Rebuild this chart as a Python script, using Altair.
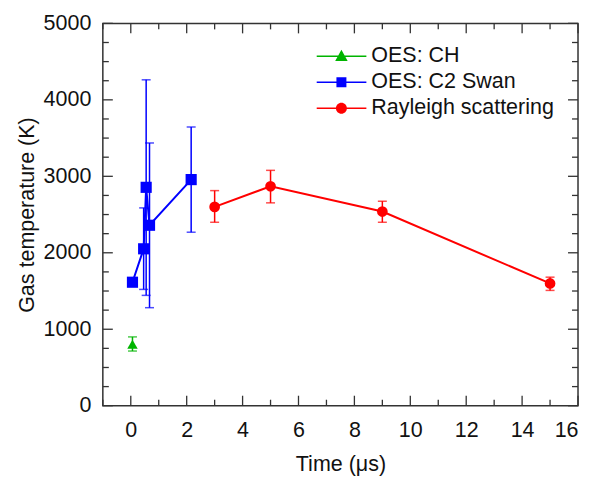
import altair as alt
import pandas as pd

# ---- data ----
ch_time = [0.06]
ch_temp = [805]
ch_lo = [715]
ch_hi = [900]

c2_time = [0.06, 0.46, 0.55, 0.67, 2.16]
c2_temp = [1615, 2052, 2856, 2360, 2957]
c2_lo = [1615, 1521, 1443, 1282, 2269]
c2_hi = [1615, 2587, 4262, 3436, 3645]

ray_time = [3, 5, 9, 15]
ray_temp = [2600, 2869, 2539, 1599]
ray_lo = [2399, 2653, 2399, 1508]
ray_hi = [2813, 3078, 2674, 1681]

series_names = ["OES: CH", "OES: C2 Swan", "Rayleigh scattering"]
series_colors = ["#00b400", "#0000ff", "#ff0000"]

x_major = [0, 2, 4, 6, 8, 10, 12, 14, 16]
x_minor = [-1, 1, 3, 5, 7, 9, 11, 13, 15]
y_major = [0, 1000, 2000, 3000, 4000, 5000]
y_minor = [250, 500, 750, 1250, 1500, 1750, 2250, 2500, 2750,
           3250, 3500, 3750, 4250, 4500, 4750]

W, H = 476, 383
FONT = "Liberation Sans"
FS = 21.5

ch_df = pd.DataFrame({"t": ch_time, "T": ch_temp, "lo": ch_lo, "hi": ch_hi})
c2_df = pd.DataFrame({"t": c2_time, "T": c2_temp, "lo": c2_lo, "hi": c2_hi})
ray_df = pd.DataFrame({"t": ray_time, "T": ray_temp, "lo": ray_lo, "hi": ray_hi})

xscale = alt.Scale(domain=[-1, 16], nice=False, zero=False)
yscale = alt.Scale(domain=[0, 5000], nice=False, zero=False)
xaxis = alt.Axis(values=x_major, ticks=False, domain=False, grid=False, format="d",
                 title="Time (μs)", labelPadding=14, titlePadding=12,
                 labelFontSize=FS, titleFontSize=FS, titleFontWeight="normal",
                 labelColor="#111", titleColor="#111", labelFont=FONT, titleFont=FONT)
yaxis = alt.Axis(values=y_major, ticks=False, domain=False, grid=False, format="d",
                 title="Gas temperature (K)", labelPadding=12, titlePadding=5,
                 labelFontSize=FS, titleFontSize=FS, titleFontWeight="normal",
                 labelColor="#111", titleColor="#111", labelFont=FONT, titleFont=FONT)

X = alt.X("t:Q", scale=xscale, axis=xaxis)
Y = alt.Y("T:Q", scale=yscale, axis=yaxis)


def series_layers(df, color, shape, size):
    base = alt.Chart(df)
    line = base.mark_line(color=color, strokeWidth=2).encode(x=X, y=Y, order="t:Q")
    rule = base.mark_rule(color=color, strokeWidth=1.5).encode(
        x=X, y=alt.Y("lo:Q", scale=yscale, axis=yaxis), y2="hi:Q")
    cap_lo = base.mark_tick(color=color, orient="horizontal", size=9, thickness=1.5).encode(
        x=X, y=alt.Y("lo:Q", scale=yscale, axis=yaxis))
    cap_hi = base.mark_tick(color=color, orient="horizontal", size=9, thickness=1.5).encode(
        x=X, y=alt.Y("hi:Q", scale=yscale, axis=yaxis))
    pts = base.mark_point(filled=True, color=color, shape=shape, size=size, opacity=1).encode(x=X, y=Y)
    return [line, rule, cap_lo, cap_hi, pts]


layers = []
layers += series_layers(c2_df, series_colors[1], "square", 125)
layers += series_layers(ray_df, series_colors[2], "circle", 115)
layers += series_layers(ch_df, series_colors[0], "triangle-up", 110)

# inward axis ticks on all four sides
TICK = "#333"
xM = pd.DataFrame({"t": x_major})
xm = pd.DataFrame({"t": x_minor})
yM = pd.DataFrame({"T": y_major})
ym = pd.DataFrame({"T": y_minor})
tick_layers = [
    alt.Chart(xM).mark_rule(color=TICK, strokeWidth=1.3).encode(x=X, y=alt.value(H), y2=alt.value(H - 10)),
    alt.Chart(xm).mark_rule(color=TICK, strokeWidth=1.3).encode(x=X, y=alt.value(H), y2=alt.value(H - 6)),
    alt.Chart(xM).mark_rule(color=TICK, strokeWidth=1.3).encode(x=X, y=alt.value(0), y2=alt.value(10)),
    alt.Chart(xm).mark_rule(color=TICK, strokeWidth=1.3).encode(x=X, y=alt.value(0), y2=alt.value(6)),
    alt.Chart(yM).mark_rule(color=TICK, strokeWidth=1.3).encode(y=Y, x=alt.value(0), x2=alt.value(10)),
    alt.Chart(ym).mark_rule(color=TICK, strokeWidth=1.3).encode(y=Y, x=alt.value(0), x2=alt.value(6)),
    alt.Chart(yM).mark_rule(color=TICK, strokeWidth=1.3).encode(y=Y, x=alt.value(W), x2=alt.value(W - 10)),
    alt.Chart(ym).mark_rule(color=TICK, strokeWidth=1.3).encode(y=Y, x=alt.value(W), x2=alt.value(W - 6)),
]

# legend: line-through-marker symbols
bar = "M-1,-0.03H1V0.03H-1Z"
legend_paths = [
    bar + "M0,-0.26L0.25,0.19L-0.25,0.19Z",
    bar + "M-0.2,-0.2H0.2V0.2H-0.2Z",
    bar + "M-0.22,0A0.22,0.22,0,1,1,0.22,0A0.22,0.22,0,1,1,-0.22,0Z",
]
leg = alt.Legend(title=None, orient="none", legendX=214, legendY=21, padding=0,
                 symbolSize=2500, clipHeight=24, rowPadding=2, labelOffset=5,
                 symbolStrokeWidth=0, labelFontSize=FS, labelFont=FONT,
                 labelColor="#111", labelLimit=400)
leg_df = pd.DataFrame({"series": series_names})
legend_layer = alt.Chart(leg_df).mark_point(filled=True, opacity=1).encode(
    color=alt.Color("series:N", scale=alt.Scale(domain=series_names, range=series_colors), legend=leg),
    shape=alt.Shape("series:N", scale=alt.Scale(domain=series_names, range=legend_paths), legend=leg),
).transform_filter("false")

chart = alt.layer(*tick_layers, *layers, legend_layer).properties(
    width=W, height=H,
    autosize=alt.AutoSizeParams(type="none"),
    padding={"left": 95, "top": 15, "right": 5, "bottom": 70},
).configure(font=FONT).configure_view(stroke="#333", strokeWidth=1.5)

chart.save("out.html", embed_options={"renderer": "svg", "actions": False})
